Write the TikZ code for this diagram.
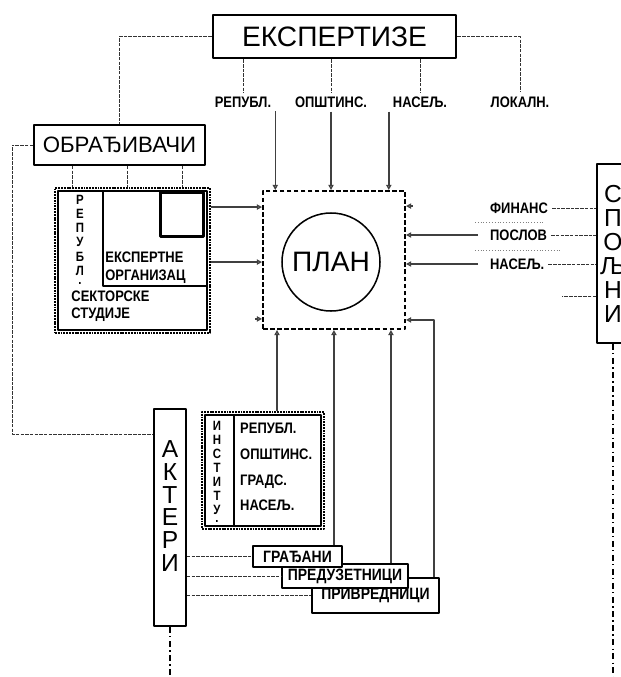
\documentclass[tikz,border=0pt]{standalone}
\usepackage{fontspec}
\setmainfont{Liberation Sans}
\newfontfamily\labfont[FakeStretch=0.85]{Liberation Sans}
\usetikzlibrary{arrows.meta,calc,positioning}
\tikzset{
    box/.style={draw, line width=1.6pt, inner sep=0pt, fill=white},
    grp/.style={draw, line width=1.6pt, dash pattern=on 1.6pt off 0.8pt, inner sep=0pt},
    inner/.style={line width=1.3pt},
    wh/.style 2 args={minimum width=#1*0.03cm, minimum height=#2*0.03cm},
    big/.style={font=\fontsize{21}{19.5}\selectfont},
    lab/.style={font=\labfont\bfseries\fontsize{13}{15}\selectfont},
    vlab/.style={font=\labfont\bfseries\fontsize{11.5}{12}\selectfont, align=center, inner sep=0pt},
    conn/.style={line width=1.2pt, draw=black!75, -{Triangle[open,length=4.5pt,width=4.5pt]}},
    dlink/.style={line width=0.8pt, draw=black!80, dash pattern=on 3pt off 1pt},
    dchain/.style={line width=1pt, dash pattern=on 5pt off 3pt on 1pt off 3pt}
}

\begin{document}
\begin{tikzpicture}[x=0.03cm,y=-0.03cm,line join=round]
\useasboundingbox (0,0) rectangle (621,677);
\clip (0,0) rectangle (621,677);
\coordinate (bot) at (0,677);

% --- expertise and its levels ---
    \node[box, line width=2.4pt, wh={243}{43}, font=\fontsize{24}{24}\selectfont] (eksp) at (334.5,36.5) {ЕКСПЕРТИЗЕ};
    \node[lab] (rep)   at (243,102) {РЕПУБЛ.};
    \node[lab] (opst)  at (331,102) {ОПШТИНС.};
    \node[lab] (nasel) at (420,102) {НАСЕЉ.};
    \node[lab] (lokal) at (520,102) {ЛОКАЛН.};
    \draw[dlink] (rep |- eksp.south) -- (rep.north);
    \draw[dlink] (opst |- eksp.south) -- (opst.north);
    \draw[dlink] (nasel |- eksp.south) -- (nasel.north);
    \draw[dlink] (eksp.east) -| (lokal.north);

% --- plan ---
    \node[draw, line width=1.6pt, dash pattern=on 4pt off 2pt, wh={142}{138}] (plan) at (334,260) {};
    \node[draw, circle, line width=1.3pt, minimum size=98*0.03cm, font=\fontsize{24}{24}\selectfont] (circ) at (331,262) {ПЛАН};
    \draw[conn] (rep.south east) -- (rep.south east |- plan.north);
    \draw[conn] (opst.south) -- (opst.south |- plan.north);
    \draw[conn] (nasel.south west) -- (nasel.south west |- plan.north);

% --- processors ---
    \node[box, wh={171}{40}, font=\fontsize{19}{19}\selectfont] (obr) at (119.5,145) {ОБРАЂИВАЧИ};
    \draw[dlink] (eksp.west) -| (obr.north);
    \node[grp, wh={155}{145}] (sgrp) at (132.5,260.5) {};
    \draw[inner] ($(sgrp.north west)+(4,4)$) rectangle ($(sgrp.south east)+(-4,-4)$);
    \draw[inner] (103,192) |- (206,286);
    \node[draw, line width=2.6pt, wh={43}{44}, inner sep=0pt] (sq) at (182,214.5) {};
    \node[vlab] (regv) at (80,240) {Р\\Е\\П\\У\\Б\\Л\\[-4pt].};
    \node[lab, align=left, anchor=south west, inner sep=1pt] (exorg) at (104,285) {ЕКСПЕРТНЕ\\ОРГАНИЗАЦ};
    \node[lab, align=left, anchor=north west, inner sep=1pt] (sekt) at (70,289) {СЕКТОРСКЕ\\СТУДИЈЕ};
    \foreach \dx in {39,94,149}
        \draw[dlink] ($(obr.south west)+(\dx,0)$) coordinate (o) -- (o |- sgrp.north);
    \draw[conn] ($(sgrp.north east)+(0,20)$) coordinate (s1) -- (s1 -| plan.west);
    \draw[conn] ($(sgrp.north east)+(0,75)$) coordinate (s2) -- (s2 -| plan.west);
    \draw[conn] ($(plan.south west)+(-7,-11)$) -- ++(7,0);

% --- outside ---
    \node[box, wh={32}{179}, font=\fontsize{21}{20.5}\selectfont, align=center] (spolj) at (613,253.5) {С\\П\\О\\Љ\\Н\\И};
    \node[lab, anchor=west] (fin)  at (486,208) {ФИНАНС};
    \node[lab, anchor=west] (posl) at (486,235) {ПОСЛОВ};
    \node[lab, anchor=west] (nas2) at (486,264) {НАСЕЉ.};
    \draw[dotted, black!50] (475,222) -- (545,222);
    \draw[dotted, black!50] (475,250) -- (560,250);
    \draw[dlink] (fin.east) -- (fin.east -| spolj.west);
    \draw[dlink] (posl.east) -- (posl.east -| spolj.west);
    \draw[dlink] (nas2.east) -- (nas2.east -| spolj.west);
    \draw[dlink] ($(spolj.west)+(0,43)$) -- ++(-34,0);
    \draw[conn] ($(posl.west)+(-8,0)$) coordinate (p1) -- (p1 -| plan.east);
    \draw[conn] ($(nas2.west)+(-8,0)$) coordinate (p2) -- (p2 -| plan.east);
    \draw[conn] ($(plan.north east)+(7,16)$) -- ++(-7,0);
    \draw[dchain] (spolj.south) -- (spolj.south |- bot);

% --- actors ---
    \node[box, wh={32}{217}, big, align=center] (akt) at (170,517.5) {А\\К\\Т\\Е\\Р\\И\\\mbox{}};
    \draw[dlink] (obr.west) -- (12,145) |- ($(akt.north west)+(0,26)$);
    \draw[dchain] (akt.south) -- (akt.south |- bot);

% institutions
    \node[grp, wh={122}{117}] (inst) at (263,470.5) {};
    \draw[inner] ($(inst.north west)+(4,4)$) rectangle ($(inst.south east)+(-4,-4)$);
    \draw[inner] ($(inst.north west)+(33,4)$) -- ($(inst.south west)+(33,-4)$);
    \node[vlab] (instv) at (217,472) {И\\Н\\С\\Т\\И\\Т\\У\\[-5pt].};
    \node[lab, align=left, anchor=west, inner sep=0pt] (instl) at (240,467) {РЕПУБЛ.\\[7pt]ОПШТИНС.\\[7pt]ГРАДС.\\[7pt]НАСЕЉ.};
    \draw[conn] ($(inst.north)+(14,0)$) coordinate (i1) -- (i1 |- plan.south);

% citizens, entrepreneurs, businesses
    \node[box, lab, wh={127}{35}, font=\labfont\bfseries\fontsize{14}{14}\selectfont] (priv) at (375.5,595.5) {ПРИВРЕДНИЦИ};
    \node[box, lab, wh={126}{24}, font=\labfont\bfseries\fontsize{14}{14}\selectfont] (pred) at (345,576) {ПРЕДУЗЕТНИЦИ};
    \node[box, lab, wh={89}{21}, font=\labfont\bfseries\fontsize{14}{14}\selectfont] (grad) at (297.5,556.5) {ГРАЂАНИ};
    \draw[dlink] (grad.west -| akt.east) -- (grad.west);
    \draw[dlink] (pred.west -| akt.east) -- (pred.west);
    \draw[dlink] (priv.west -| akt.east) -- (priv.west);
    \draw[conn] ($(grad.north east)+(-9,0)$) coordinate (g1) -- (g1 |- plan.south);
    \draw[conn] ($(pred.north east)+(-18,0)$) coordinate (g2) -- (g2 |- plan.south);
    \draw[conn] ($(priv.north east)+(-6,0)$) |- ($(plan.south east)+(0,-10)$);

\end{tikzpicture}
\end{document}
